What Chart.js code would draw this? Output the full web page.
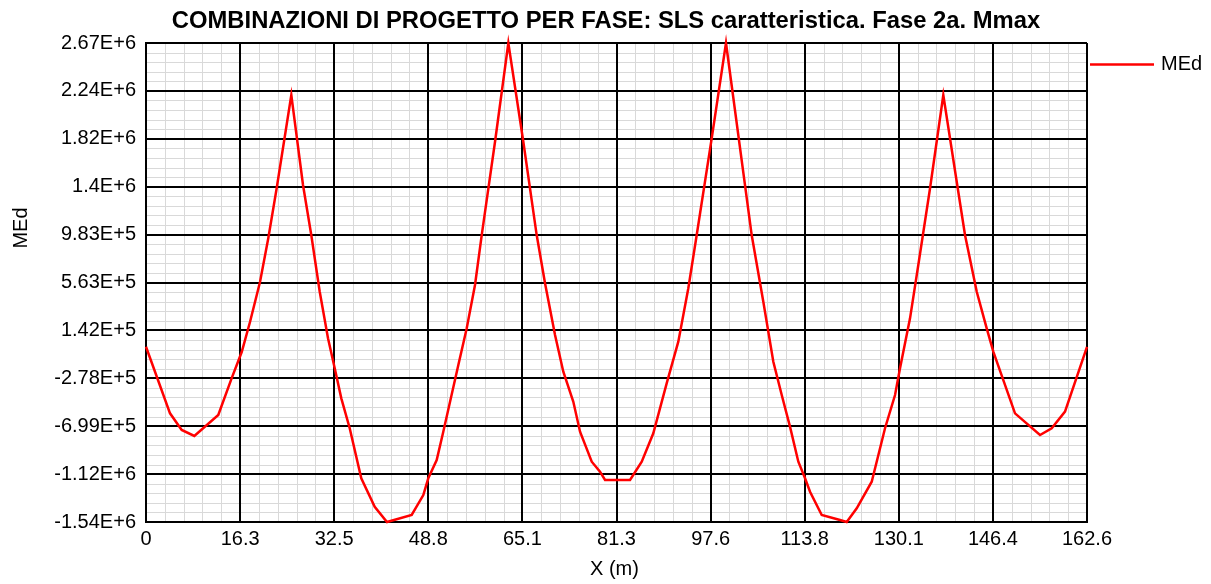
<!DOCTYPE html>
<html><head><meta charset="utf-8">
<script src="https://cdn.jsdelivr.net/npm/chart.js@4.4.0/dist/chart.umd.min.js"></script>
<style>html,body{margin:0;padding:0;background:#fff;}canvas{display:block;}</style>
</head><body>
<canvas id="c" width="1211" height="584"></canvas>
<script>
const chartTitle = 'COMBINAZIONI DI PROGETTO PER FASE: SLS caratteristica. Fase 2a. Mmax';
const seriesName = 'MEd';
const xAxisTitle = 'X (m)';
const yAxisTitle = 'MEd';

const xValues = [0, 4.15, 6.17, 8.35, 12.49, 14.81, 16.54, 17.97, 19.70, 21.13, 22.58, 25.11,
  27.13, 28.56, 30.02, 31.45, 32.61, 33.75, 35.20, 37.20, 39.52, 41.64, 45.91, 47.92, 48.78, 50.23, 51.37, 53.97, 55.42, 56.85, 58.01, 60.31, 62.61,
  65.20, 67.51, 68.95, 70.68, 72.11, 73.84, 75.00, 77.02, 78.45, 79.32, 83.64, 85.66, 87.66, 89.97, 91.98, 93.71, 95.16, 97.75, 100.22,
  104.66, 106.67, 108.40, 109.85, 111.28, 112.72, 113.88, 114.74, 116.76, 119.92, 121.08, 122.81, 125.40, 127.70, 129.43, 130.29, 132.02, 133.45, 135.48, 137.77,
  140.09, 141.52, 143.55, 145.27, 146.41, 150.16, 154.48, 156.50, 158.80, 162.60];
const medValues = [0, -585000, -731000, -784000, -600000, -276000, -46000, 218000, 570000, 953000, 1393000, 2213000,
  1422000, 982000, 484000, 75000, -189000, -453000, -716000, -1156000, -1406000, -1540000, -1478000, -1303000, -1156000, -995000, -746000, -160000, 162000, 543000, 982000, 1802000, 2670000,
  1802000, 982000, 558000, 104000, -219000, -483000, -746000, -1010000, -1098000, -1171000, -1171000, -1010000, -760000, -321000, 45000, 514000, 982000, 1832000, 2670000,
  982000, 396000, -131000, -424000, -702000, -1010000, -1156000, -1274000, -1478000, -1522000, -1540000, -1420000, -1186000, -716000, -424000, -189000, 250000, 719000, 1393000, 2213000,
  1451000, 982000, 484000, 162000, -43000, -585000, -775000, -716000, -570000, 0];

const xTickLabels = ['0', '16.3', '32.5', '48.8', '65.1', '81.3', '97.6', '113.8', '130.1', '146.4', '162.6'];
const yTickLabels = ['-1.54E+6', '-1.12E+6', '-6.99E+5', '-2.78E+5', '1.42E+5', '5.63E+5', '9.83E+5', '1.4E+6', '1.82E+6', '2.24E+6', '2.67E+6'];
const xMin = 0, xMax = 162.6;
const yMin = -1540000, yMax = 2670000;

const FONT = "'Liberation Sans', Arial, sans-serif";
const MINOR = 5;

function evenTicks(min, max, n) {
  const t = [];
  for (let i = 0; i < n; i++) t.push({ value: min + (max - min) * i / (n - 1) });
  return t;
}

const minorGrid = {
  id: 'minorGrid',
  beforeDraw(chart) {
    const { ctx, chartArea: a, scales: { x, y } } = chart;
    ctx.save();
    ctx.strokeStyle = '#d9d9d9';
    ctx.lineWidth = 1;
    ctx.beginPath();
    const nx = (xTickLabels.length - 1) * MINOR;
    for (let i = 1; i < nx; i++) {
      if (i % MINOR === 0) continue;
      const px = Math.round(x.getPixelForValue(xMin + (xMax - xMin) * i / nx)) + 0.5;
      ctx.moveTo(px, a.top); ctx.lineTo(px, a.bottom);
    }
    const ny = (yTickLabels.length - 1) * MINOR;
    for (let i = 1; i < ny; i++) {
      if (i % MINOR === 0) continue;
      const py = Math.round(y.getPixelForValue(yMin + (yMax - yMin) * i / ny)) + 0.5;
      ctx.moveTo(a.left, py); ctx.lineTo(a.right, py);
    }
    ctx.stroke();
    ctx.restore();
  }
};

const texts = {
  id: 'texts',
  afterDraw(chart) {
    const { ctx, chartArea: a } = chart;
    ctx.save();
    ctx.fillStyle = '#000';
    ctx.font = 'bold 23.8px ' + FONT;
    ctx.textAlign = 'center';
    ctx.textBaseline = 'alphabetic';
    ctx.fillText(chartTitle, 606, 28);
    ctx.font = '20px ' + FONT;
    ctx.fillText(xAxisTitle, (a.left + a.right) / 2 - 2, 575);
    ctx.save();
    ctx.translate(27, 228);
    ctx.rotate(-Math.PI / 2);
    ctx.textBaseline = 'alphabetic';
    ctx.fillText(yAxisTitle, 0, 0);
    ctx.restore();
    // legend
    const ds = chart.data.datasets[0];
    ctx.strokeStyle = ds.borderColor;
    ctx.lineWidth = ds.borderWidth;
    ctx.beginPath();
    ctx.moveTo(1090, 64.5); ctx.lineTo(1154, 64.5);
    ctx.stroke();
    ctx.textAlign = 'left';
    ctx.textBaseline = 'middle';
    ctx.fillText(ds.label, 1161, 64);
    ctx.restore();
  }
};

new Chart(document.getElementById('c'), {
  type: 'line',
  data: {
    datasets: [{
      label: seriesName,
      data: xValues.map((x, i) => ({ x: x, y: medValues[i] })),
      borderColor: '#ff0000',
      borderWidth: 2.5,
      pointRadius: 0,
      tension: 0,
      fill: false,
      clip: false
    }]
  },
  options: {
    responsive: false,
    animation: false,
    events: [],
    layout: { padding: { left: 0, top: 43, right: 124, bottom: 0 } },
    plugins: { legend: { display: false }, title: { display: false }, tooltip: { enabled: false } },
    scales: {
      x: {
        type: 'linear', min: xMin, max: xMax,
        afterBuildTicks: s => { s.ticks = evenTicks(xMin, xMax, xTickLabels.length); },
        afterFit: s => { s.height = 62; },
        ticks: { autoSkip: false, maxRotation: 0, padding: 5, color: '#000',
          font: { family: FONT, size: 20 },
          callback: (v, i) => xTickLabels[i] },
        grid: { color: '#000', lineWidth: 2, drawTicks: false },
        border: { display: true, color: '#000', width: 2 }
      },
      y: {
        type: 'linear', min: yMin, max: yMax,
        afterBuildTicks: s => { s.ticks = evenTicks(yMin, yMax, yTickLabels.length); },
        afterFit: s => { s.width = 146; },
        ticks: { autoSkip: false, padding: 10, color: '#000',
          font: { family: FONT, size: 20 },
          callback: (v, i) => yTickLabels[i] },
        grid: { color: '#000', lineWidth: 2, drawTicks: false },
        border: { display: true, color: '#000', width: 2 }
      }
    }
  },
  plugins: [minorGrid, texts]
});
</script>
</body></html>
